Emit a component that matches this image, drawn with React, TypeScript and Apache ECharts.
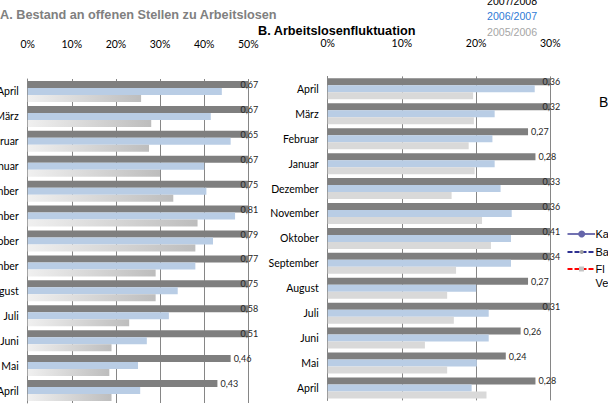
import React, { useEffect, useRef } from 'react';
import * as echarts from 'echarts';

const months = ['April', 'März', 'Februar', 'Januar', 'Dezember', 'November', 'Oktober', 'September', 'August', 'Juli', 'Juni', 'Mai', 'April'];
const seasons = ['2007/2008', '2006/2007', '2005/2006'];

// Panel A: Bestand an offenen Stellen zu Arbeitslosen
const aCur = [0.67, 0.67, 0.65, 0.67, 0.75, 0.81, 0.79, 0.77, 0.75, 0.58, 0.51, 0.46, 0.43];
const aPrev = [0.44, 0.415, 0.46, 0.40, 0.405, 0.47, 0.42, 0.38, 0.34, 0.32, 0.27, 0.25, 0.255];
const aOld = [0.257, 0.28, 0.275, 0.30, 0.33, 0.385, 0.38, 0.29, 0.29, 0.23, 0.19, 0.185, 0.19];

// Panel B: Arbeitslosenfluktuation
const bCur = [0.36, 0.32, 0.27, 0.28, 0.33, 0.36, 0.41, 0.34, 0.27, 0.31, 0.26, 0.24, 0.28];
const bPrev = [0.279, 0.225, 0.222, 0.225, 0.233, 0.248, 0.247, 0.247, 0.2, 0.217, 0.217, 0.201, 0.194];
const bOld = [0.196, 0.197, 0.19, 0.198, 0.167, 0.208, 0.22, 0.173, 0.161, 0.17, 0.131, 0.161, 0.214];

const aMax = 0.5;
const bMax = 0.3;

const CAL = 'Lato, "Liberation Sans", sans-serif';
const ARIAL = '"Liberation Sans", Arial, sans-serif';

const fmtComma = (v: number) => v.toFixed(2).replace('.', ',');

function curData(values: number[], max: number) {
  return values.map((v) =>
    v > max
      ? { value: v, label: { position: 'right', distance: 1, align: 'center' } }
      : { value: v }
  );
}

export default function App() {
  const ref = useRef<HTMLDivElement>(null);
  useEffect(() => {
    if (!ref.current) return;
    const chart = echarts.init(ref.current, undefined, { renderer: 'svg' });
    const gridLine = '#868686';
    const xAxisBase = (gridIndex: number, max: number, margin: number) => ({
      type: 'value',
      gridIndex,
      position: 'top',
      min: 0,
      max,
      interval: 0.1,
      axisLine: { show: false },
      axisTick: { show: false },
      splitLine: { show: true, lineStyle: { color: gridLine, width: 1 } },
      axisLabel: {
        margin,
        color: '#000',
        fontFamily: CAL,
        fontSize: 10.5,
        formatter: (v: number) => Math.round(v * 100) + '%',
      },
    });
    const yAxisBase = (gridIndex: number) => ({
      type: 'category',
      gridIndex,
      inverse: true,
      data: months,
      axisLine: { show: true, lineStyle: { color: gridLine, width: 1 } },
      axisTick: { show: false },
      splitLine: { show: false },
      axisLabel: { margin: 9, color: '#000', fontFamily: CAL, fontSize: 10.5 },
    });
    const curLabel = {
      show: true,
      position: 'right',
      distance: 3,
      color: '#262626',
      fontFamily: CAL,
      fontSize: 9,
      formatter: (p: any) => fmtComma(p.value),
    };
    const gradA = new echarts.graphic.LinearGradient(0, 0, 1, 0, [
      { offset: 0, color: '#f0f0f0' },
      { offset: 1, color: '#bdbdbd' },
    ]);
    const barCommon = { type: 'bar', barWidth: 7, barGap: '0%', clip: true };

    chart.setOption({
      animation: false,
      grid: [
        { left: 27.7, top: 79, width: 220.6, height: 324, containLabel: false, outerBoundsMode: 'none' },
        { left: 327.7, top: 76.4, width: 222.6, height: 324, containLabel: false, outerBoundsMode: 'none' },
      ],
      xAxis: [xAxisBase(0, aMax, 30), xAxisBase(1, bMax, 27.5)],
      yAxis: [yAxisBase(0), yAxisBase(1)],
      series: [
        { ...barCommon, name: seasons[0], xAxisIndex: 0, yAxisIndex: 0, data: curData(aCur, aMax), itemStyle: { color: '#7f7f7f' }, label: curLabel },
        { ...barCommon, name: seasons[1], xAxisIndex: 0, yAxisIndex: 0, data: aPrev, itemStyle: { color: '#b9cde5' } },
        { ...barCommon, name: seasons[2], xAxisIndex: 0, yAxisIndex: 0, data: aOld, itemStyle: { color: gradA } },
        { ...barCommon, name: seasons[0], xAxisIndex: 1, yAxisIndex: 1, data: curData(bCur, bMax), itemStyle: { color: '#7f7f7f' }, label: curLabel },
        { ...barCommon, name: seasons[1], xAxisIndex: 1, yAxisIndex: 1, data: bPrev, itemStyle: { color: '#b9cde5' } },
        { ...barCommon, name: seasons[2], xAxisIndex: 1, yAxisIndex: 1, data: bOld, itemStyle: { color: '#d9d9d9' } },
      ],
      graphic: [
        { type: 'text', x: 0, y: 15, style: { text: 'A. Bestand an offenen Stellen zu Arbeitslosen', fill: '#808080', fontFamily: ARIAL, fontWeight: 'bold', fontSize: 12.7, verticalAlign: 'middle' } },
        { type: 'text', x: 258, y: 31, style: { text: 'B. Arbeitslosenfluktuation', fill: '#000', fontFamily: ARIAL, fontWeight: 'bold', fontSize: 12.7, verticalAlign: 'middle' } },
        { type: 'text', x: 487, y: 0.5, style: { text: seasons[0], fill: '#000', fontFamily: ARIAL, fontSize: 10.6, verticalAlign: 'middle' } },
        { type: 'text', x: 487, y: 15.5, style: { text: seasons[1], fill: '#2f7bd6', fontFamily: ARIAL, fontSize: 10.6, verticalAlign: 'middle' } },
        { type: 'text', x: 487, y: 31.5, style: { text: seasons[2], fill: '#a6a6a6', fontFamily: ARIAL, fontSize: 10.6, verticalAlign: 'middle' } },
        { type: 'text', x: 599, y: 102, style: { text: 'B', fill: '#000', fontFamily: ARIAL, fontSize: 14, verticalAlign: 'middle' } },
        // partial legend of the neighbouring chart
        { type: 'line', shape: { x1: 567.5, y1: 234, x2: 595, y2: 234 }, style: { stroke: '#7272b2', lineWidth: 2 } },
        { type: 'circle', shape: { cx: 581.7, cy: 234, r: 3.5 }, style: { fill: '#6565aa' } },
        { type: 'line', shape: { x1: 567.5, y1: 252, x2: 595, y2: 252 }, style: { stroke: '#2e3192', lineWidth: 2, lineDash: [5, 2] } },
        { type: 'circle', shape: { cx: 581.7, cy: 252, r: 2 }, style: { fill: '#a0a0a0' } },
        { type: 'line', shape: { x1: 567.5, y1: 269, x2: 595, y2: 269 }, style: { stroke: '#ff0000', lineWidth: 2, lineDash: [5, 2] } },
        { type: 'rect', shape: { x: 579, y: 266.5, width: 5, height: 5 }, style: { fill: '#c4c4c4' } },
        { type: 'text', x: 595.5, y: 234, style: { text: 'Ka', fill: '#000', fontFamily: ARIAL, fontSize: 11, verticalAlign: 'middle' } },
        { type: 'text', x: 595.5, y: 252, style: { text: 'Ba', fill: '#000', fontFamily: ARIAL, fontSize: 11, verticalAlign: 'middle' } },
        { type: 'text', x: 595.5, y: 269, style: { text: 'Fl', fill: '#000', fontFamily: ARIAL, fontSize: 11, verticalAlign: 'middle' } },
        { type: 'text', x: 595.5, y: 283, style: { text: 'Ve', fill: '#000', fontFamily: ARIAL, fontSize: 11, verticalAlign: 'middle' } },
      ],
    });
    return () => chart.dispose();
  }, []);
  return <div ref={ref} style={{ position: 'absolute', left: 0, top: 0, width: 608, height: 413, background: '#fff' }} />;
}
